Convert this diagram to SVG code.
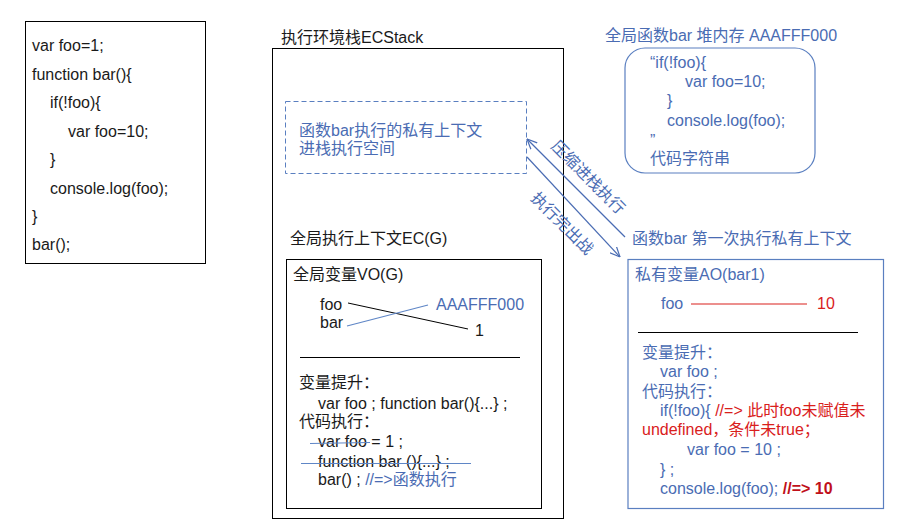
<svg xmlns="http://www.w3.org/2000/svg" width="904" height="529" viewBox="0 0 904 529">
<defs>
<style>
text{font-family:"Liberation Sans","Noto Sans CJK SC",sans-serif;font-size:16px;fill:#1a1a1a}
.b{fill:#4a6cb3}
.r{fill:#d9201c}
.box{fill:none;stroke:#000;stroke-width:1}
.bbox{fill:none;stroke:#5a7fc0;stroke-width:1.2}
.ln{stroke:#000;stroke-width:1;fill:none}
.bl{stroke:#5f86c6;stroke-width:1.2;fill:none}
.rl{stroke:#d9201c;stroke-width:1.2;fill:none}
</style>
<marker id="ah" viewBox="0 0 10 10" refX="10" refY="5" markerWidth="10" markerHeight="10" markerUnits="userSpaceOnUse" orient="auto">
<path d="M0,0.5 L10,5 L0,9.5" fill="none" stroke="#4a6cb3" stroke-width="1.2"/>
</marker>
</defs>
<rect width="904" height="529" fill="#fff"/>

<g id="code">
<rect class="box" x="25.5" y="21.5" width="180" height="242"/>
<text x="32" y="51">var foo=1;</text>
<text x="32" y="79.5">function bar(){</text>
<text x="50" y="108">if(!foo){</text>
<text x="68" y="136.5">var foo=10;</text>
<text x="50" y="165">}</text>
<text x="50" y="193.5">console.log(foo);</text>
<text x="32" y="222">}</text>
<text x="32" y="250">bar();</text>
</g>

<g id="ecstack">
<text x="281" y="43">执行环境栈ECStack</text>
<rect class="box" x="272.5" y="48.5" width="291" height="470"/>
</g>

<g id="private-ctx">
<rect x="285.5" y="101.5" width="241" height="72" fill="none" stroke="#5a7fc0" stroke-width="1" stroke-dasharray="5,3"/>
<text class="b" x="299" y="136">函数bar执行的私有上下文</text>
<text class="b" x="299" y="154">进栈执行空间</text>
</g>

<g id="global-ec">
<text x="290" y="244">全局执行上下文EC(G)</text>
<rect class="box" x="286.5" y="259.5" width="255" height="249"/>
<text x="293" y="280">全局变量VO(G)</text>
<text x="320" y="310">foo</text>
<text x="320" y="328">bar</text>
<text class="b" x="436" y="310">AAAFFF000</text>
<text x="475" y="336">1</text>
<line class="ln" x1="348" y1="303" x2="468" y2="329"/>
<line class="bl" x1="347" y1="326" x2="428" y2="305"/>
<line class="ln" x1="300" y1="357.5" x2="520" y2="357.5"/>
<text x="299" y="388">变量提升：</text>
<text x="318" y="408.5">var foo ; function bar(){...} ;</text>
<text x="299" y="427">代码执行：</text>
<text x="318" y="447">var foo = 1 ;</text>
<line class="bl" x1="310" y1="443.5" x2="370" y2="442.5"/>
<text x="318" y="466.5">function bar (){...} ;</text>
<line class="bl" x1="301" y1="463.5" x2="471" y2="463.5"/>
<text x="318" y="485">bar() ; <tspan class="b">//=&gt;函数执行</tspan></text>
</g>

<g id="heap">
<text class="b" x="605" y="41">全局函数bar 堆内存 AAAFFF000</text>
<rect class="bbox" x="625" y="48" width="190" height="125" rx="20" ry="20"/>
<text class="b" x="650" y="67.5">“if(!foo){</text>
<text class="b" x="685" y="86.5">var foo=10;</text>
<text class="b" x="667" y="106">}</text>
<text class="b" x="667" y="125.5">console.log(foo);</text>
<text class="b" x="650" y="146">”</text>
<text class="b" x="650" y="164">代码字符串</text>
</g>

<g id="ao">
<text class="b" x="632" y="244">函数bar 第一次执行私有上下文</text>
<rect class="bbox" x="628" y="259.5" width="255.5" height="249"/>
<text class="b" x="635" y="279.5">私有变量AO(bar1)</text>
<text class="b" x="661" y="309">foo</text>
<line class="rl" x1="691" y1="304" x2="807" y2="304"/>
<text class="r" x="817" y="309">10</text>
<line class="ln" x1="638" y1="332.5" x2="858" y2="332.5"/>
<text class="b" x="642" y="358">变量提升：</text>
<text class="b" x="660" y="377">var foo ;</text>
<text class="b" x="642" y="396.5">代码执行：</text>
<text class="b" x="660" y="416">if(!foo){ <tspan class="r">//=&gt; 此时foo未赋值未</tspan></text>
<text class="r" x="642" y="435">undefined，条件未true；</text>
<text class="b" x="687" y="454.5">var foo = 10 ;</text>
<text class="b" x="660" y="475">} ;</text>
<text class="b" x="660" y="494">console.log(foo); <tspan fill="#c0101a" font-weight="bold">//=&gt; 10</tspan></text>
</g>

<g id="connectors">
<line x1="625" y1="237" x2="527" y2="139" stroke="#4a6cb3" stroke-width="1.2" marker-end="url(#ah)"/>
<line x1="527" y1="157" x2="620" y2="257" stroke="#4a6cb3" stroke-width="1.2" marker-end="url(#ah)"/>
<text class="b" transform="translate(588.5,177) rotate(45)" x="0" y="6" text-anchor="middle">压缩进栈执行</text>
<text class="b" transform="translate(562.5,223) rotate(45)" x="0" y="6" text-anchor="middle">执行完出战</text>
</g>
</svg>
